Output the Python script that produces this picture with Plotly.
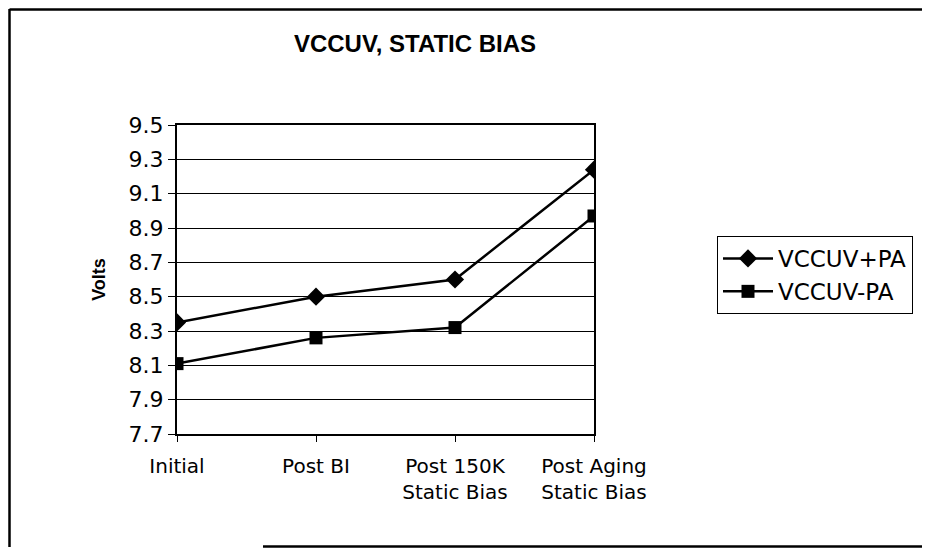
import plotly.graph_objects as go

categories = ["Initial", "Post BI", "Post 150K<br>Static Bias", "Post Aging<br>Static Bias"]
plus_pa = [8.35, 8.50, 8.60, 9.24]
minus_pa = [8.11, 8.26, 8.32, 8.97]
y_ticks = [7.7, 7.9, 8.1, 8.3, 8.5, 8.7, 8.9, 9.1, 9.3, 9.5]

# page has an 8px body margin; work in page pixels and convert
OFF = 8
W, H = 930 - OFF, 548 - OFF
PL, PR, PT, PB = 177, 594, 125, 434  # plot area in page pixels
L, T = PL - OFF, PT - OFF
R, B = W - (PR - OFF), H - (PB - OFF)
pw, ph = PR - PL, PB - PT

def px(x):
    return (x - PL) / pw

def py(y):
    return (PB - y) / ph

fig = go.Figure()
fig.add_trace(go.Scatter(
    x=list(range(len(categories))), y=plus_pa, name="VCCUV+PA",
    mode="lines+markers",
    line=dict(color="black", width=2.5),
    marker=dict(symbol="diamond", size=14, color="black"),
))
fig.add_trace(go.Scatter(
    x=list(range(len(categories))), y=minus_pa, name="VCCUV-PA",
    mode="lines+markers",
    line=dict(color="black", width=2.5),
    marker=dict(symbol="square", size=13, color="black"),
))

font = "DejaVu Sans, Arial, sans-serif"
title_font = "Liberation Sans, Arial, sans-serif"

fig.update_layout(
    width=W, height=H,
    margin=dict(l=L, r=R, t=T, b=B, pad=0),
    paper_bgcolor="white", plot_bgcolor="white",
    font=dict(family=font, color="black", size=20),
    title=dict(text="<b>VCCUV, STATIC BIAS</b>", x=(415 - OFF) / W, xanchor="center",
               y=1 - (44 - OFF) / H, yanchor="middle",
               font=dict(size=24, family=title_font)),
    showlegend=True,
    legend=dict(x=px(717), y=py(236), xanchor="left", yanchor="top",
                bordercolor="black", borderwidth=1, bgcolor="white",
                font=dict(size=23, family=font),
                itemwidth=50, tracegroupgap=0),
    xaxis=dict(
        range=[0, 3], tickmode="array", tickvals=list(range(len(categories))),
        ticktext=categories, showgrid=False, zeroline=False,
        showline=True, linecolor="black", linewidth=2, mirror=True,
        ticks="outside", ticklen=6, tickcolor="black", tickwidth=1,
        tickfont=dict(size=20, family=font), ticklabelstandoff=7,
    ),
    yaxis=dict(
        range=[7.7, 9.5], tickmode="array", tickvals=y_ticks,
        ticktext=[f"{v:.1f}" for v in y_ticks],
        showgrid=True, gridcolor="black", gridwidth=1, zeroline=False,
        showline=True, linecolor="black", linewidth=2, mirror=True,
        ticks="outside", ticklen=7, tickcolor="black", tickwidth=1,
        tickfont=dict(size=22, family=font),
        title=dict(text="<b>Volts</b>", font=dict(size=18, family="Liberation Sans, Arial, sans-serif"),
                   standoff=18),
    ),
    shapes=[
        dict(type="line", xref="paper", yref="paper", x0=px(9.5), x1=px(9.5), y0=py(9), y1=py(547),
             line=dict(color="black", width=2.5)),
        dict(type="line", xref="paper", yref="paper", x0=px(9.5), x1=px(930), y0=py(9.5), y1=py(9.5),
             line=dict(color="black", width=2.5)),
        dict(type="line", xref="paper", yref="paper", x0=px(263), x1=px(930), y0=py(546.5), y1=py(546.5),
             line=dict(color="black", width=2.5)),
    ],
)

fig.write_html("out.html")
